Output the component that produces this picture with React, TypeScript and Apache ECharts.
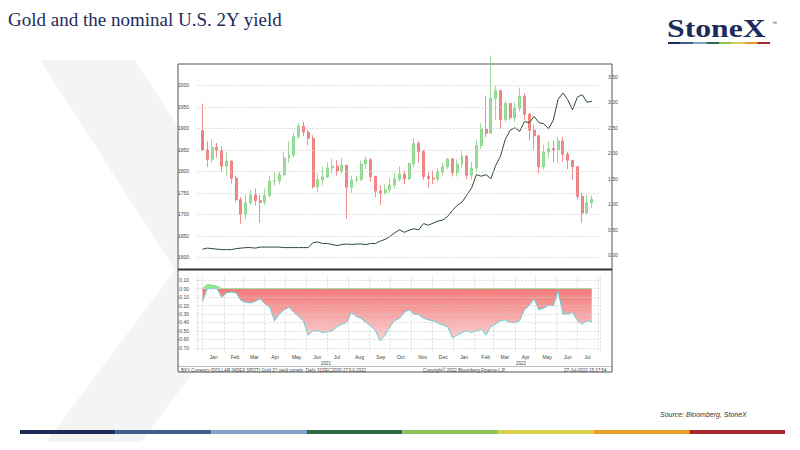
import { useEffect, useRef } from 'react';
import * as echarts from 'echarts';

// weekly gold candles (close, high, low); open = prior close
const goldClose = [
  1850, 1828, 1856, 1848, 1812, 1824, 1784, 1734, 1700, 1727, 1745, 1732, 1728, 1744, 1777, 1778,
  1792, 1831, 1838, 1881, 1905, 1891, 1877, 1764, 1781, 1787, 1808, 1812, 1801, 1814, 1763, 1780,
  1781, 1817, 1827, 1788, 1754, 1750, 1757, 1768, 1782, 1793, 1783, 1818, 1865, 1846, 1788, 1784,
  1782, 1798, 1811, 1829, 1797, 1817, 1835, 1791, 1808, 1860, 1898, 1889, 1970, 1988, 1921, 1958,
  1925, 1947, 1975, 1933, 1896, 1883, 1811, 1845, 1853, 1850, 1871, 1840, 1826, 1811, 1742, 1703,
  1727, 1735,
];
const goldHigh = [
  1958, 1870, 1875, 1866, 1858, 1845, 1826, 1790, 1740, 1745, 1756, 1760, 1746, 1760, 1790, 1798,
  1800, 1845, 1870, 1890, 1912, 1916, 1897, 1884, 1795, 1812, 1820, 1830, 1826, 1832, 1815, 1790,
  1790, 1825, 1835, 1830, 1790, 1768, 1770, 1784, 1797, 1812, 1802, 1820, 1877, 1870, 1850, 1798,
  1802, 1807, 1820, 1830, 1832, 1828, 1848, 1838, 1822, 1872, 1912, 1975, 2070, 2000, 1990, 1965,
  1952, 1960, 1995, 1982, 1936, 1908, 1870, 1862, 1870, 1872, 1880, 1880, 1846, 1820, 1812, 1750,
  1745, 1744,
];
const goldLow = [
  1890, 1810, 1820, 1832, 1800, 1790, 1772, 1728, 1678, 1688, 1722, 1720, 1680, 1722, 1740, 1766,
  1770, 1790, 1820, 1832, 1875, 1882, 1860, 1760, 1752, 1768, 1785, 1795, 1790, 1795, 1690, 1750,
  1774, 1778, 1805, 1776, 1740, 1722, 1746, 1750, 1760, 1776, 1770, 1780, 1810, 1820, 1780, 1762,
  1770, 1776, 1790, 1805, 1788, 1788, 1808, 1782, 1780, 1800, 1852, 1880, 1890, 1920, 1898, 1915,
  1920, 1915, 1940, 1920, 1872, 1850, 1795, 1805, 1832, 1822, 1820, 1822, 1805, 1780, 1735, 1680,
  1700, 1715,
];
const yield2y = [
  0.12, 0.14, 0.13, 0.12, 0.11, 0.11, 0.11, 0.13, 0.14, 0.15, 0.15, 0.14, 0.16, 0.16, 0.16, 0.16,
  0.16, 0.15, 0.15, 0.15, 0.15, 0.15, 0.15, 0.25, 0.26, 0.23, 0.23, 0.21, 0.19, 0.21, 0.22, 0.21,
  0.22, 0.22, 0.21, 0.23, 0.23, 0.28, 0.31, 0.37, 0.44, 0.50, 0.45, 0.49, 0.52, 0.50, 0.62, 0.59,
  0.63, 0.67, 0.69, 0.76, 0.88, 0.98, 1.04, 1.18, 1.32, 1.58, 1.55, 1.58, 1.50, 1.76, 1.94, 2.27,
  2.45, 2.50, 2.43, 2.62, 2.60, 2.72, 2.60, 2.58, 2.48, 2.65, 3.06, 3.18, 3.05, 2.85, 3.10, 3.15,
  3.00, 3.02,
];
const correl = [
  -0.15, 0.05, 0.04, 0.03, -0.10, -0.05, -0.04, -0.05, -0.14, -0.16, -0.17, -0.15, -0.12, -0.18,
  -0.22, -0.38, -0.30, -0.25, -0.22, -0.28, -0.33, -0.38, -0.55, -0.50, -0.50, -0.52, -0.51, -0.50,
  -0.45, -0.42, -0.40, -0.28, -0.33, -0.35, -0.40, -0.44, -0.50, -0.62, -0.55, -0.45, -0.38, -0.35,
  -0.28, -0.25, -0.30, -0.31, -0.35, -0.37, -0.38, -0.41, -0.43, -0.45, -0.58, -0.55, -0.52, -0.50,
  -0.52, -0.50, -0.48, -0.55, -0.45, -0.42, -0.38, -0.37, -0.40, -0.40, -0.38, -0.25, -0.20, -0.12,
  -0.25, -0.23, -0.20, -0.20, -0.03, -0.30, -0.30, -0.28, -0.38, -0.42, -0.38, -0.39,
];
const goldTicks = [1600, 1650, 1700, 1750, 1800, 1850, 1900, 1950, 2000];
const correlTicks = [0.1, 0, -0.1, -0.2, -0.3, -0.4, -0.5, -0.6, -0.7];
const monthNames = ['Jan', 'Feb', 'Mar', 'Apr', 'May', 'Jun', 'Jul', 'Aug', 'Sep', 'Oct', 'Nov', 'Dec'];
const stripeColors = ['#1e2b5a', '#3d5f8f', '#7fa6c9', '#2e6b45', '#8fbf5a', '#d8cf4a', '#e6a12a', '#a8282e'];

const DAY = 86400000;
const start = Date.UTC(2021, 0, 1);
const dates = goldClose.map((_, i) => start + i * 7 * DAY);
const lastLabel = Date.UTC(2022, 6, 15);

export default function App() {
  const ref = useRef<HTMLDivElement>(null);
  useEffect(() => {
    if (!ref.current) return;
    const chart = echarts.init(ref.current, undefined, { renderer: 'svg' });
    const candles = goldClose.map((c, i) => [dates[i], i === 0 ? 1895 : goldClose[i - 1], c, goldLow[i], goldHigh[i]]);
    const tiny = { fontSize: 5, color: '#444', fontFamily: 'Arial' };
    const hidden = { splitLine: { show: false }, axisLine: { show: false }, axisTick: { show: false } };
    const dashed = { color: '#ccc', type: 'dashed', width: 0.6 };
    const xBase = {
      type: 'time' as const,
      min: Date.UTC(2020, 11, 24),
      max: Date.UTC(2022, 7, 3),
      minInterval: 28 * DAY,
      maxInterval: 31 * DAY,
      axisLine: { show: false },
      axisTick: { show: false },
    };
    const segW = 765 / stripeColors.length;
    const logoW = 102 / stripeColors.length;
    chart.setOption({
      animation: false,
      backgroundColor: '#fff',
      graphic: [
        { type: 'polygon', z: -10, shape: { points: [[40, 60], [135, 60], [270, 270], [135, 450], [40, 450], [175, 270]] }, style: { fill: '#f4f4f4' } },
        { type: 'rect', z: -5, shape: { x: 178, y: 64, width: 434, height: 308 }, style: { fill: '#fff', stroke: '#555', lineWidth: 1 } },
        { type: 'line', shape: { x1: 178, y1: 269.5, x2: 612, y2: 269.5 }, style: { stroke: '#333', lineWidth: 2 } },
        { type: 'line', shape: { x1: 178, y1: 366.5, x2: 612, y2: 366.5 }, style: { stroke: '#777', lineWidth: 0.5 } },
        { type: 'text', x: 8, y: 10, style: { text: 'Gold and the nominal U.S. 2Y yield', fontFamily: 'Liberation Serif', fontSize: 19, fill: '#1e2b5a' } },
        { type: 'text', x: 667, y: 15, scaleX: 1.22, style: { text: 'StoneX', fontFamily: 'Liberation Serif', fontWeight: 'bold', fontSize: 26, fill: '#1e2b5a' } },
        { type: 'text', x: 772, y: 20, style: { text: '™', fontSize: 5, fill: '#1e2b5a' } },
        ...stripeColors.map((c, i) => ({ type: 'rect', shape: { x: 668 + i * logoW, y: 42, width: logoW, height: 2 }, style: { fill: c } })),
        { type: 'text', x: 321, y: 361, style: { text: '2021', ...tiny, fontSize: 4.5, fill: '#444' } },
        { type: 'text', x: 516, y: 361, style: { text: '2022', ...tiny, fontSize: 4.5, fill: '#444' } },
        { type: 'text', x: 181, y: 368, style: { text: 'BXY Currency (DOLLAR INDEX SPOT) Gold 2Y yield correln  Daily 31DEC2020-27JUL2022', ...tiny, fontSize: 4.5, fill: '#444' } },
        { type: 'text', x: 423, y: 368, style: { text: 'Copyright© 2022 Bloomberg Finance L.P.', ...tiny, fontSize: 4.5, fill: '#444' } },
        { type: 'text', x: 564, y: 368, style: { text: '27-Jul-2022 15:17:54', ...tiny, fontSize: 4.5, fill: '#444' } },
        { type: 'text', x: 660, y: 411, style: { text: 'Source: Bloomberg, StoneX', fontFamily: 'Liberation Sans', fontStyle: 'italic', fontSize: 7, fill: '#333' } },
        ...stripeColors.map((c, i) => ({ type: 'rect', shape: { x: 20 + i * segW, y: 430, width: segW, height: 4 }, style: { fill: c } })),
      ],
      grid: [
        { left: 197, right: 200, top: 64, bottom: 182 },
        { left: 197, right: 200, top: 276, bottom: 98 },
      ],
      xAxis: [
        { ...xBase, gridIndex: 0, axisLabel: { show: false }, splitLine: { show: false } },
        {
          ...xBase,
          gridIndex: 1,
          splitLine: { show: true, lineStyle: dashed },
          axisLabel: {
            ...tiny,
            margin: 2,
            align: 'left',
            padding: [0, 0, 0, 7],
            hideOverlap: false,
            formatter: (v: number) => (v > lastLabel ? '' : monthNames[new Date(v).getUTCMonth()]),
          },
        },
      ],
      yAxis: [
        { gridIndex: 0, type: 'value', min: 1575, max: 2050, interval: 25, position: 'left', ...hidden, axisLabel: { ...tiny, formatter: (v: number) => (v % 50 === 0 && v <= 2000 ? String(v) : '') } },
        { gridIndex: 0, type: 'value', min: -0.25, max: 3.75, interval: 0.25, position: 'right', ...hidden, axisLabel: { ...tiny, formatter: (v: number) => (v >= 0 && v <= 3.5 && Math.round(v * 100) % 50 === 0 ? v.toFixed(2) : '') } },
        { gridIndex: 1, type: 'value', min: -0.75, max: 0.15, interval: 0.05, position: 'left', ...hidden, axisLabel: { ...tiny, formatter: (v: number) => (Math.round(v * 100) % 10 === 0 && v < 0.14 && v > -0.74 ? v.toFixed(2) : '') } },
      ],
      series: [
        {
          type: 'line', xAxisIndex: 0, yAxisIndex: 0, silent: true, symbol: 'none',
          data: [],
          markLine: { silent: true, symbol: 'none', label: { show: false }, lineStyle: dashed, data: goldTicks.map((y) => ({ yAxis: y })) },
        },
        {
          type: 'candlestick', xAxisIndex: 0, yAxisIndex: 0, barMaxWidth: 3,
          itemStyle: { color: '#9ee09e', color0: '#f28a8a', borderColor: '#7fd07f', borderColor0: '#ee7070', borderWidth: 0.8 },
          data: candles,
        },
        {
          type: 'line', xAxisIndex: 0, yAxisIndex: 1, symbol: 'none',
          lineStyle: { color: '#2f4a33', width: 1 },
          data: yield2y.map((v, i) => [dates[i], v]),
        },
        {
          type: 'line', xAxisIndex: 1, yAxisIndex: 2, symbol: 'none',
          lineStyle: { color: '#5fd0d8', width: 1 },
          areaStyle: {
            opacity: 1,
            color: new echarts.graphic.LinearGradient(0, 0, 0, 1, [
              { offset: 0, color: '#f47a7a' },
              { offset: 1, color: '#fbd2d2' },
            ]),
          },
          data: correl.map((v, i) => [dates[i], Math.min(v, 0)]),
          markLine: { silent: true, symbol: 'none', label: { show: false }, lineStyle: dashed, data: correlTicks.map((y) => ({ yAxis: y })) },
        },
        {
          type: 'line', xAxisIndex: 1, yAxisIndex: 2, symbol: 'none',
          lineStyle: { color: '#7fe07f', width: 1 },
          areaStyle: { color: '#8fe88f', opacity: 1 },
          data: correl.map((v, i) => [dates[i], Math.max(v, 0)]),
        },
      ],
    });
    return () => chart.dispose();
  }, []);
  return <div ref={ref} style={{ width: 800, height: 450, margin: -8 }} />;
}
